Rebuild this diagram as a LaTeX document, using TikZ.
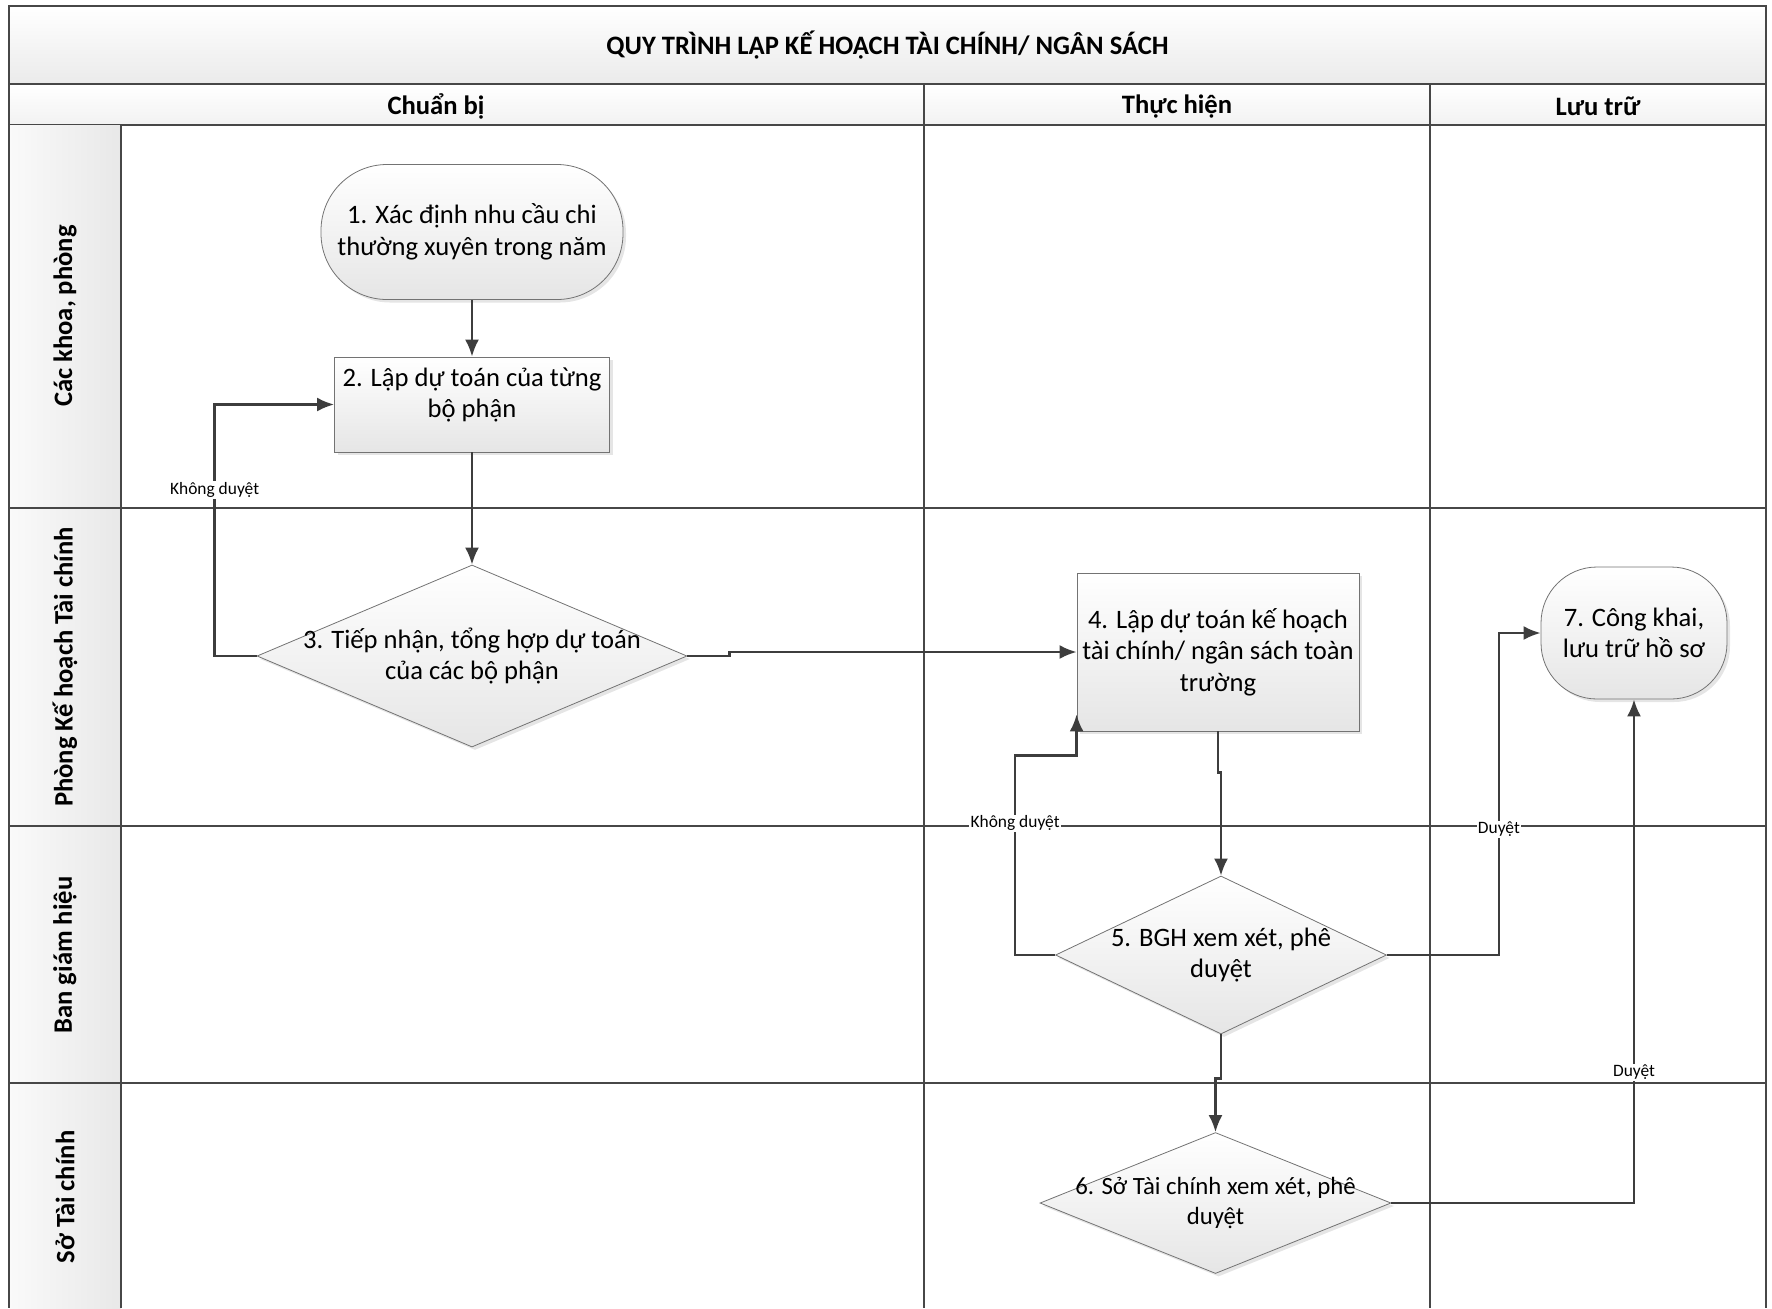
\documentclass[tikz,border=0pt]{standalone}
\usepackage{fontspec}
\setmainfont{Carlito}
\usetikzlibrary{positioning,arrows.meta,shapes.geometric,shadows,calc}
\tikzset{>={Latex[length=8.5pt,width=7pt]}}
\tikzset{
  shade box/.style={top color=white,bottom color=black!10,draw=black!55,line width=0.4pt,
    drop shadow={shadow xshift=1.5pt,shadow yshift=-1.5pt,fill=black!20}},
  proc/.style={shade box,rectangle,align=center,inner sep=2pt,
    font=\fontsize{13.3}{15.8}\selectfont},
  term/.style={proc,rounded corners=30pt},
  decide/.style={shade box,diamond,align=center,inner sep=-60pt,
    font=\fontsize{13.3}{15.8}\selectfont},
  flow/.style={->,draw=black!76,line width=1.2pt},
  lbl/.style={fill=white,inner sep=0.6pt,font=\fontsize{8.7}{10}\selectfont},
  lane/.style={draw=black!72,line width=1pt},
  divider/.style={draw=black!72,line width=0.6pt},
  headtxt/.style={font=\fontsize{13.3}{15.8}\selectfont\bfseries},
  lanetxt/.style={headtxt,rotate=90},
}

\begin{document}
\begin{tikzpicture}[x=0.5pt,y=-0.5pt]
\useasboundingbox (0,0) rectangle (1772,1308);

% bands and lanes
\draw[lane,top color=white,bottom color=black!8] (9,6) rectangle (1766,84);
\draw[lane,top color=white,bottom color=black!5] (9,84) rectangle (1766,125);
\fill[left color=black!2,right color=black!9] (9,125) rectangle (121,1308);
\draw[divider] (121,125) -- (121,1308);
\draw[divider] (924,84) -- (924,1308);
\draw[divider] (1430,84) -- (1430,1308);
\draw[lane] (9,508) -- (1766,508);
\draw[lane] (9,826) -- (1766,826);
\draw[lane] (9,1083) -- (1766,1083);
\draw[lane] (9,6) -- (9,1308);
\draw[lane] (1766,6) -- (1766,1308);

\node[headtxt] (t) at(887.5,45){QUY TRÌNH LẬP KẾ HOẠCH TÀI CHÍNH/ NGÂN SÁCH};
\node[headtxt] (h1) at(436,106.5){Chuẩn bị};
\node[headtxt] (h2) at(1177,106.5){Thực hiện};
\node[headtxt] (h3) at(1598,106.5){Lưu trữ};

\node[lanetxt] (l1) at(65,316){Các khoa, phòng};
\node[lanetxt] (l2) at(65,667){Phòng Kế hoạch Tài chính};
\node[lanetxt] (l3) at(65,955){Ban giám hiệu};
\node[lanetxt] (l4) at(65,1197){Sở Tài chính};

% steps
\node[term,minimum width=151pt,minimum height=67.5pt,rounded corners=33pt] (1) at(472,232){1. Xác định nhu cầu chi\\thường xuyên trong năm};
\node[proc,minimum width=137.5pt,minimum height=47.5pt] (2) at(472,404.5){2. Lập dự toán của từng\\bộ phận\\[-4pt]\mbox{}};
\node[decide,minimum width=215pt,minimum height=91pt] (3) at(472,656){3. Tiếp nhận, tổng hợp dự toán\\của các bộ phận};
\node[proc,minimum width=141pt,minimum height=79pt] (4) at(1218,652){4. Lập dự toán kế hoạch\\tài chính/ ngân sách toàn\\trường};
\node[decide,minimum width=165.5pt,minimum height=79pt] (5) at(1221,955){5. BGH xem xét, phê\\duyệt};
\node[decide,minimum width=175.5pt,minimum height=70.5pt,font=\fontsize{12.4}{14.7}\selectfont] (6) at(1215.5,1203){6. Sở Tài chính xem xét, phê\\duyệt};
\node[term,minimum width=93pt,minimum height=66pt,rounded corners=28pt] (7) at(1634,633){7. Công khai,\\lưu trữ hồ sơ};

\draw[flow] (1) --(2);
\draw[flow] (2) --(3);
\draw[flow] (3.west) -- ++(-42,0) |- node[lbl,pos=0.33] (k1) {Không duyệt} (2.west);
\draw[flow] (3.east) -- ++(42,0) |- (4.west);
\draw[flow] (4.south) -- ++(0,41) -| (5.north);
\draw[flow] (5.west) -- ++(-40,0) |- node[lbl,pos=0.33] (k2) {Không duyệt} ($(4.south west)+(0,24)$) -- ($(4.south west)+(0,-17)$);
\draw[flow] (5.east) -- ++(112,0) |- node[lbl,pos=0.195] (d1) {Duyệt} (7.west);
\draw[flow] (5.south) -- ++(0,44) -| (6.north);
\draw[flow] (6.east) -| node[lbl,pos=0.63] (d2) {Duyệt} (7.south);

\end{tikzpicture}
\end{document}
